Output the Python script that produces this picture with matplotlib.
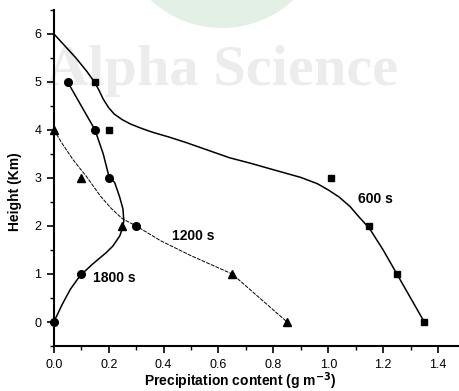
import numpy as np
import matplotlib.pyplot as plt
from matplotlib.patches import Circle
from matplotlib.ticker import MultipleLocator, FormatStrFormatter

plt.rcParams['font.family'] = ['Liberation Sans', 'DejaVu Sans']

# measured points
x600 = [0.15, 0.2, 1.01, 1.15, 1.25, 1.35]
y600 = [5, 4, 3, 2, 1, 0]
x1200 = [0.0, 0.1, 0.25, 0.65, 0.85]
y1200 = [4, 3, 2, 1, 0]
x1800 = [0.05, 0.15, 0.2, 0.3, 0.1, 0.0]
y1800 = [5, 4, 3, 2, 1, 0]

# fitted curves
fit600_x = [0.0, 0.04, 0.08, 0.12, 0.15, 0.165, 0.18, 0.2, 0.22, 0.25, 0.28, 0.32, 0.36, 0.42, 0.48, 0.55, 0.64,
            0.72, 0.8, 0.9, 0.96, 1.0, 1.04, 1.08, 1.11, 1.15, 1.2, 1.25, 1.3, 1.35]
fit600_y = [6.0, 5.75, 5.5, 5.22, 4.98, 4.82, 4.64, 4.46, 4.33, 4.21, 4.12, 4.03, 3.95, 3.85, 3.74, 3.6, 3.42,
            3.3, 3.17, 3.01, 2.88, 2.75, 2.6, 2.4, 2.2, 1.95, 1.5, 1.0, 0.5, 0.0]
fit1200_x = [0.0, 0.03, 0.07, 0.12, 0.17, 0.21, 0.25, 0.3, 0.39, 0.5, 0.65, 0.75, 0.85]
fit1200_y = [4.0, 3.72, 3.38, 3.02, 2.62, 2.36, 2.15, 2.0, 1.69, 1.38, 1.0, 0.5, 0.0]
fit1800_x = [0.05, 0.1, 0.15, 0.18, 0.2, 0.222, 0.24, 0.252, 0.255, 0.25, 0.24, 0.215, 0.19, 0.14, 0.095, 0.06, 0.03, 0.0]
fit1800_y = [5.0, 4.5, 4.0, 3.5, 3.05, 2.9, 2.6, 2.35, 2.1, 1.95, 1.79, 1.58, 1.44, 1.2, 0.96, 0.68, 0.36, 0.0]

fig = plt.figure(figsize=(4.6, 3.91), dpi=100)

# watermark behind everything
fig.patches.append(Circle((2.22, 4.68), 1.05, transform=fig.dpi_scale_trans,
                          facecolor='#e2f0e5', edgecolor='none', zorder=0))
fig.text(0.483, 0.818, 'Alpha Science', fontsize=42, fontweight='bold',
         family='Liberation Serif', color='#ececec', ha='center', va='center', zorder=0)

ax = fig.add_axes([0.117, 0.115, 0.883, 0.86])
ax.set_zorder(2)
ax.patch.set_alpha(0)

ax.plot(fit600_x, fit600_y, color='black', lw=1.1)
ax.plot(fit1200_x, fit1200_y, color='black', lw=0.7, ls=(0, (4, 1.2)))
ax.plot(fit1800_x, fit1800_y, color='black', lw=1.1)

ax.plot(x600, y600, 's', color='black', ms=5, clip_on=False)
ax.plot(x1200, y1200, '^', color='black', ms=6, clip_on=False)
ax.plot(x1800, y1800, 'o', color='black', ms=5.5, clip_on=False)

ax.text(1.108, 2.56, '600 s', fontsize=10, fontweight='bold', va='center')
ax.text(0.43, 1.79, '1200 s', fontsize=10, fontweight='bold', va='center')
ax.text(0.142, 0.92, '1800 s', fontsize=10, fontweight='bold', va='center')

ax.set_xlim(0, 1.48)
ax.set_ylim(-0.5, 6.5)
ax.spines['top'].set_visible(False)
ax.spines['right'].set_visible(False)
ax.spines['left'].set_linewidth(1.5)
ax.spines['bottom'].set_linewidth(1.5)
ax.xaxis.set_major_locator(MultipleLocator(0.2))
ax.xaxis.set_minor_locator(MultipleLocator(0.1))
ax.yaxis.set_major_locator(MultipleLocator(1))
ax.yaxis.set_minor_locator(MultipleLocator(0.5))
ax.xaxis.set_major_formatter(FormatStrFormatter('%.1f'))
ax.set_yticks([0, 1, 2, 3, 4, 5, 6])
ax.tick_params(which='major', length=5, width=1.2, labelsize=9, pad=4)
ax.tick_params(which='minor', length=3, width=1.0)

ax.set_xlabel('Precipitation content (g m$^{\\mathbf{-3}}$)', fontsize=10, fontweight='bold')
ax.set_ylabel('Height (Km)', fontsize=10, fontweight='bold')
ax.xaxis.set_label_coords(0.458, -0.072)
ax.yaxis.set_label_coords(-0.078, 0.458)

fig.savefig('out.png', dpi=100)
